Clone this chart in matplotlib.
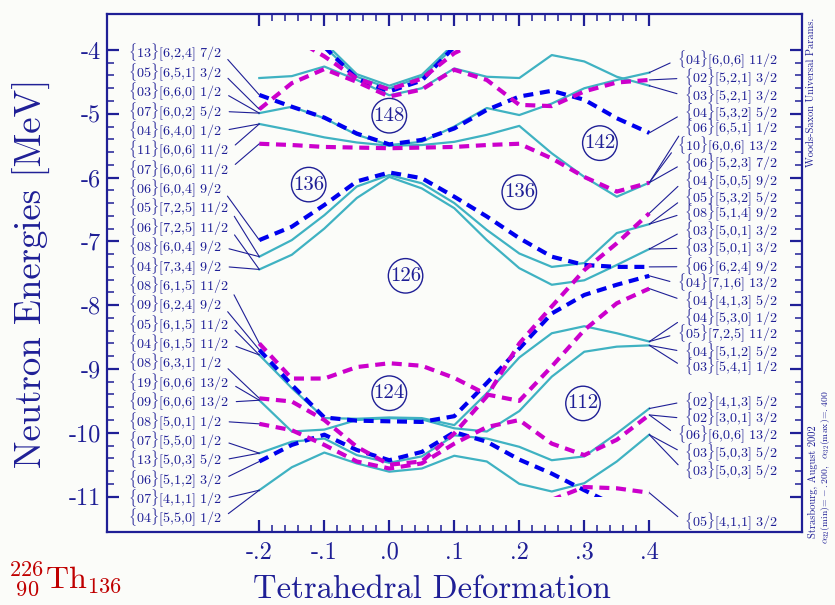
import numpy as np
import matplotlib
matplotlib.use("Agg")
import matplotlib.pyplot as plt
from matplotlib.patches import Rectangle

plt.rcParams['mathtext.fontset'] = 'cm'
plt.rcParams['font.family'] = 'cmr10'
plt.rcParams['axes.unicode_minus'] = False

NAVY = '#1f1f96'
CYAN = '#3fb2c2'
BLUE = '#0000ee'
MAGENTA = '#cc00cc'
BG = '#fbfcf9'

nan = np.nan
defo = [-0.2, -0.15, -0.1, -0.05, 0.0, 0.05, 0.1, 0.15, 0.2, 0.25, 0.3, 0.35, 0.4]

# single-particle levels [MeV] vs tetrahedral deformation
cyan_levels = [
    [-4.44, -4.41, -4.26, -4.47, -4.71, -4.60, -4.29, -4.42, -4.44, -4.08, -4.18, -4.42, -4.56],
    [-4.99, -4.89, -5.07, -5.33, -5.49, -5.44, -5.20, -4.91, -5.02, -4.84, -4.60, -4.47, -4.355],
    [-5.16, -5.26, -5.37, -5.45, -5.50, -5.49, -5.44, -5.33, -5.19, -5.62, -5.99, -6.30, -6.08],
    [-7.24, -6.98, -6.59, -6.14, -5.96, -6.09, -6.40, -6.82, -7.19, -7.40, -7.34, -6.87, -6.73],
    [-7.44, -7.21, -6.80, -6.32, -5.99, -6.17, -6.48, -6.98, -7.42, -7.68, -7.61, -7.37, -7.12],
    [-8.78, -9.30, -9.77, -9.78, -9.76, -9.77, -9.88, -9.38, -8.82, -8.44, -8.33, -8.44, -8.57],
    [-9.49, -9.98, -9.95, -9.80, -9.77, -9.79, -9.93, -9.98, -9.66, -9.12, -8.73, -8.65, -8.63],
    [-10.32, -10.14, -10.09, -10.35, -10.47, -10.37, -10.04, -10.09, -10.22, -10.43, -10.37, -10.01, -9.62],
    [-10.90, -10.54, -10.31, -10.48, -10.61, -10.56, -10.36, -10.45, -10.80, -10.92, -10.79, -10.45, -10.03],
    [nan, nan, -3.95, -4.42, -4.60, -4.42, -3.95, nan, nan, nan, nan, nan, nan],
    [nan, nan, -3.88, -4.38, -4.56, -4.39, -3.90, nan, nan, nan, nan, nan, nan],
]
blue_levels = [
    [-4.705, -4.89, -5.06, -5.31, -5.48, -5.41, -5.23, -4.94, -4.73, -4.64, -4.78, -5.07, -5.30],
    [-6.98, -6.77, -6.43, -6.06, -5.92, -6.01, -6.30, -6.61, -6.95, -7.24, -7.37, -7.40, -7.40],
    [-8.70, -9.25, -9.76, -9.81, -9.82, -9.83, -9.74, -9.22, -8.68, -8.13, -7.84, -7.68, -7.54],
    [-10.45, -10.19, -10.03, -10.27, -10.43, -10.30, -9.99, -10.14, -10.42, -10.64, -10.90, -11.15, nan],
    [nan, nan, -3.95, -4.45, -4.65, -4.48, -3.95, nan, nan, nan, nan, nan, nan],
]
magenta_levels = [
    [-4.93, -4.52, -4.30, -4.50, -4.73, -4.62, -4.31, -4.47, -4.86, -4.88, -4.65, -4.51, -4.47],
    [-5.47, -5.49, -5.52, -5.53, -5.54, -5.53, -5.52, -5.49, -5.47, -5.70, -5.99, -6.22, -6.08],
    [-8.60, -9.15, -9.15, -8.97, -8.91, -8.95, -9.14, -9.40, -9.50, -8.96, -8.39, -7.97, -7.74],
    [-9.46, -9.51, -9.80, -10.22, -10.50, -10.45, -10.01, -9.43, -8.60, -8.02, -7.45, -7.03, -6.56],
    [-9.86, -9.96, -10.19, -10.45, -10.56, -10.48, -10.17, -9.91, -9.80, -10.17, -10.35, -10.11, -9.72],
    [nan, nan, nan, nan, nan, nan, nan, nan, nan, -11.05, -10.85, -10.87, -10.94],
    [nan, -3.80, -4.10, -4.45, -4.62, -4.45, -4.05, -3.80, nan, nan, nan, nan, nan],
]

# level labels: {n}[N,nz,Lambda] Omega, with the energy each one points to
left_labels = ['{13}[6,2,4] 7/2', '{05}[6,5,1] 3/2', '{03}[6,6,0] 1/2', '{07}[6,0,2] 5/2',
               '{04}[6,4,0] 1/2', '{11}[6,0,6] 11/2', '{07}[6,0,6] 11/2', '{06}[6,0,4] 9/2',
               '{05}[7,2,5] 11/2', '{06}[7,2,5] 11/2', '{08}[6,0,4] 9/2', '{04}[7,3,4] 9/2',
               '{08}[6,1,5] 11/2', '{09}[6,2,4] 9/2', '{05}[6,1,5] 11/2', '{04}[6,1,5] 11/2',
               '{08}[6,3,1] 1/2', '{19}[6,0,6] 13/2', '{09}[6,0,6] 13/2', '{08}[5,0,1] 1/2',
               '{07}[5,5,0] 1/2', '{13}[5,0,3] 5/2', '{06}[5,1,2] 3/2', '{07}[4,1,1] 1/2',
               '{04}[5,5,0] 1/2']
left_ends = [-4.705, -4.93, -4.99, -4.99, -5.16, -5.16, -5.47, -6.98, -7.24, -7.44, -7.24,
             -7.44, -8.60, -8.70, -8.78, -8.78, -9.46, -9.49, -9.49, -9.86, -10.32, -10.32,
             -10.45, -10.90, -10.90]

right_labels = ['{04}[6,0,6] 11/2', '{02}[5,2,1] 3/2', '{03}[5,2,1] 3/2', '{04}[5,3,2] 5/2',
                '{06}[6,5,1] 1/2', '{10}[6,0,6] 13/2', '{06}[5,2,3] 7/2', '{04}[5,0,5] 9/2',
                '{05}[5,3,2] 5/2', '{08}[5,1,4] 9/2', '{03}[5,0,1] 3/2', '{03}[5,0,1] 3/2',
                '{06}[6,2,4] 9/2', '{04}[7,1,6] 13/2', '{04}[4,1,3] 5/2', '{04}[5,3,0] 1/2',
                '{05}[7,2,5] 11/2', '{04}[5,1,2] 5/2', '{03}[5,4,1] 1/2', '{02}[4,1,3] 5/2',
                '{02}[3,0,1] 3/2', '{06}[6,0,6] 13/2', '{03}[5,0,3] 5/2', '{03}[5,0,3] 5/2',
                '{05}[4,1,1] 3/2']
right_ends = [-4.355, -4.47, -4.56, -5.30, -6.08, -6.08, -6.08, -6.56, -6.73, -6.73, -7.12,
              -7.12, -7.40, -7.54, -7.74, -8.57, -8.57, -8.63, -8.63, -9.62, -9.72, -9.72,
              -10.03, -10.03, -10.94]
right_ypos = [-4.157, -4.444, -4.716, -4.992, -5.227, -5.500, -5.776, -6.053, -6.324, -6.560,
              -6.832, -7.108, -7.397, -7.657, -7.929, -8.205, -8.451, -8.729, -8.973, -9.513,
              -9.773, -10.034, -10.321, -10.594, -11.393]

# shell gaps
gap_numbers = ['148', '142', '136', '136', '126', '124', '112']
gap_defo = [0.0, 0.324, -0.124, 0.2, 0.025, 0.0, 0.298]
gap_energy = [-5.03, -5.46, -6.11, -6.23, -7.54, -9.38, -9.54]


def as_math(label):
    s = label.replace('{', r'\{').replace('}', r'\}').replace(',', '{,}').replace(' ', r'\ ')
    return '$' + s + '$'


fig = plt.figure(figsize=(8.35, 6.05), dpi=100, facecolor=BG)
ax = fig.add_axes([0.1278, 0.1212, 0.8323, 0.8557], facecolor=BG)
ax.set_xlim(-0.4348, 0.6345)
ax.set_ylim(-11.55, -3.436)

window = Rectangle((-0.3, -11.0), 0.8, 7.0, transform=ax.transData)
for lev in cyan_levels:
    ln, = ax.plot(defo, lev, color=CYAN, lw=1.6, solid_joinstyle='round')
    ln.set_clip_path(window)
for lev in blue_levels:
    ln, = ax.plot(defo, lev, color=BLUE, lw=3.0, ls=(0, (2.4, 1.6)))
    ln.set_clip_path(window)
for lev in magenta_levels:
    ln, = ax.plot(defo, lev, color=MAGENTA, lw=3.0, ls=(0, (2.4, 1.6)))
    ln.set_clip_path(window)

left_ypos = np.linspace(-4.052, -11.34, len(left_labels))
for lab, yl, ye in zip(left_labels, left_ypos, left_ends):
    ax.annotate(as_math(lab), xy=(defo[0], ye), xytext=(-0.402, yl),
                ha='left', va='center', fontsize=10.2, color=NAVY,
                arrowprops=dict(arrowstyle='-', color=NAVY, lw=0.8,
                                relpos=(1, 0.5), shrinkA=3, shrinkB=0))
for lab, yl, ye in zip(right_labels, right_ypos, right_ends):
    ax.annotate(as_math(lab), xy=(defo[-1], ye), xytext=(0.598, yl),
                ha='right', va='center', fontsize=10.2, color=NAVY,
                arrowprops=dict(arrowstyle='-', color=NAVY, lw=0.8,
                                relpos=(0, 0.5), shrinkA=3, shrinkB=0))

for num, gx, gy in zip(gap_numbers, gap_defo, gap_energy):
    ax.text(gx, gy, num, ha='center', va='center', fontsize=15, color=NAVY,
            bbox=dict(boxstyle='circle,pad=0.08', fc=BG, ec=NAVY, lw=1.0))

# axes frame and ticks
for sp in ax.spines.values():
    sp.set_color(NAVY)
    sp.set_linewidth(1.6)
ax.set_xticks(defo[::2])
ax.set_xticklabels(['-.2', '-.1', '.0', '.1', '.2', '.3', '.4'])
ax.set_xticks(np.arange(-0.2, 0.401, 0.02), minor=True)
ax.set_yticks(np.arange(-4, -12, -1))
ax.set_yticklabels(['-4', '-5', '-6', '-7', '-8', '-9', '-10', '-11'])
ax.set_yticks(np.arange(-4, -11.01, -0.2), minor=True)
ax.tick_params(which='both', direction='in', top=True, right=True,
               color=NAVY, labelcolor=NAVY, labelsize=17.5)
ax.tick_params(which='major', length=8.5, width=1.6)
ax.tick_params(which='minor', length=5, width=1.1)
ax.tick_params(axis='x', pad=7)
ax.tick_params(axis='y', pad=4)

ax.set_xlabel('Tetrahedral Deformation', fontsize=23.5, color=NAVY)
ax.xaxis.set_label_coords(0.468, -0.1126)
ax.xaxis.label.set_va('center')
ax.set_ylabel('Neutron Energies [MeV]', fontsize=26.5, color=NAVY)
ax.yaxis.set_label_coords(-0.1075, 0.5)
ax.yaxis.label.set_va('center')

fig.text(0.971, 0.97, 'Woods-Saxon Universal Params.', rotation=90, ha='center',
         va='top', fontsize=7.5, color=NAVY)
fig.text(0.973, 0.11, 'Strasbourg, August 2002', rotation=90, ha='center',
         va='bottom', fontsize=7.5, color=NAVY)
fig.text(0.989, 0.10, r'$\alpha_{32}(\mathrm{min})\!=\!-.200,\ \ \alpha_{32}(\mathrm{max})\!=\!.400$',
         rotation=90, ha='center', va='bottom', fontsize=7, color=NAVY)

fig.text(0.010, 0.012, r'${}^{226}_{\ 90}\mathrm{Th}_{136}$', ha='left', va='bottom',
         fontsize=23, color='#c00000')

fig.savefig('out.png', dpi=100, facecolor=BG)
